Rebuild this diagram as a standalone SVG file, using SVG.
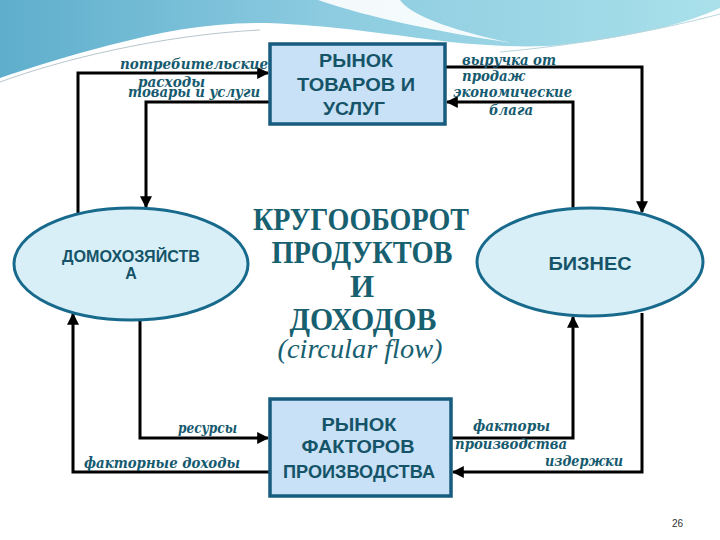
<svg xmlns="http://www.w3.org/2000/svg" width="720" height="540" viewBox="0 0 720 540">
<defs>
<linearGradient id="sky" x1="0" y1="0" x2="1" y2="0">
<stop offset="0" stop-color="#5eaecc"/>
<stop offset="0.45" stop-color="#8ccbe0"/>
<stop offset="1" stop-color="#a9e0ea"/>
</linearGradient>
<marker id="ah" viewBox="0 0 10 10" refX="9" refY="5" markerWidth="4" markerHeight="4" orient="auto" markerUnits="strokeWidth">
<path d="M0,0 L10,5 L0,10 Z" fill="#000"/>
</marker>
<style>
.box{fill:#c8e1f6;stroke:#175b7e;stroke-width:3.5}
.ell{fill:#d9eff8;stroke:#186a8c;stroke-width:3}
.bt{font-family:"Liberation Sans",Arial,sans-serif;font-weight:bold;fill:#155468;text-anchor:middle}
.lb{font-family:"DejaVu Serif","Liberation Serif",serif;font-weight:bold;font-style:italic;font-size:14px;fill:#165a70}
.tt{font-family:"Liberation Serif",serif;font-weight:bold;font-size:31px;fill:#176070;text-anchor:middle}
.cn{fill:none;stroke:#000;stroke-width:3;marker-end:url(#ah)}
</style>
</defs>
<rect width="720" height="540" fill="#fff"/>
<g id="background">
<path d="M0,0 H720 V8 C690,22 640,36 560,45 C530,48 490,46 450,42 C400,36 330,25 267,23 C210,22 160,32 110,45 C70,55 30,68 0,78 Z" fill="url(#sky)"/>
<path d="M318,0 H400 C410,15 450,30 512,43 C440,32 370,18 318,0 Z" fill="#ffffff" opacity="0.9"/>
<path d="M0,82 C60,60 160,35 260,30" fill="none" stroke="#b8c6cc" stroke-width="1"/>
<path d="M500,52 C580,45 660,30 720,14" fill="none" stroke="#b8d6de" stroke-width="1"/>
</g>
<g id="connectors">
<path class="cn" d="M78,214 V73 H268"/>
<path class="cn" d="M270,102 H146 V207"/>
<path class="cn" d="M445,67 H642 V212"/>
<path class="cn" d="M573,209 V102 H447"/>
<path class="cn" d="M451,438 H573 V317"/>
<path class="cn" d="M642,313 V472 H453"/>
<path class="cn" d="M140,320 V438 H268"/>
<path class="cn" d="M270,472 H73 V314"/>
</g>
<g id="labels">
<text class="lb" x="120" y="69" textLength="148" lengthAdjust="spacingAndGlyphs">потребительские</text>
<text class="lb" x="138" y="87" textLength="67" lengthAdjust="spacingAndGlyphs">расходы</text>
<text class="lb" x="128" y="97" textLength="132" lengthAdjust="spacingAndGlyphs">товары и услуги</text>
<text class="lb" x="462" y="65" textLength="94" lengthAdjust="spacingAndGlyphs">выручка от</text>
<text class="lb" x="462" y="81" textLength="63" lengthAdjust="spacingAndGlyphs">продаж</text>
<text class="lb" x="453" y="97" textLength="119" lengthAdjust="spacingAndGlyphs">экономические</text>
<text class="lb" x="489" y="115" textLength="44" lengthAdjust="spacingAndGlyphs">блага</text>
<text class="lb" x="178" y="433" textLength="59" lengthAdjust="spacingAndGlyphs">ресурсы</text>
<text class="lb" x="84" y="468" textLength="156" lengthAdjust="spacingAndGlyphs">факторные доходы</text>
<text class="lb" x="473" y="431" textLength="77" lengthAdjust="spacingAndGlyphs">факторы</text>
<text class="lb" x="455" y="449" textLength="112" lengthAdjust="spacingAndGlyphs">производства</text>
<text class="lb" x="545" y="466" textLength="78" lengthAdjust="spacingAndGlyphs">издержки</text>
</g>
<g id="goods-market">
<rect class="box" x="270" y="44" width="175" height="80"/>
<text class="bt" font-size="19" x="356" y="67" textLength="74" lengthAdjust="spacingAndGlyphs">РЫНОК</text>
<text class="bt" font-size="19" x="356" y="91" textLength="118" lengthAdjust="spacingAndGlyphs">ТОВАРОВ И</text>
<text class="bt" font-size="19" x="354" y="115" textLength="62" lengthAdjust="spacingAndGlyphs">УСЛУГ</text>
</g>
<g id="factor-market">
<rect class="box" x="270" y="399" width="181" height="97"/>
<text class="bt" font-size="19" x="359" y="431" textLength="75" lengthAdjust="spacingAndGlyphs">РЫНОК</text>
<text class="bt" font-size="19" x="358" y="453" textLength="113" lengthAdjust="spacingAndGlyphs">ФАКТОРОВ</text>
<text class="bt" font-size="19" x="359" y="478" textLength="152" lengthAdjust="spacingAndGlyphs">ПРОИЗВОДСТВА</text>
</g>
<g id="households">
<ellipse class="ell" cx="131" cy="264" rx="117" ry="56"/>
<text class="bt" font-size="16" x="131" y="262" textLength="138" lengthAdjust="spacingAndGlyphs">ДОМОХОЗЯЙСТВ</text>
<text class="bt" font-size="16" x="131" y="279">А</text>
</g>
<g id="business">
<ellipse class="ell" cx="590" cy="262" rx="113" ry="54"/>
<text class="bt" font-size="18" x="590" y="270" textLength="83" lengthAdjust="spacingAndGlyphs">БИЗНЕС</text>
</g>
<g id="title">
<text class="tt" x="361" y="230" textLength="216" lengthAdjust="spacingAndGlyphs">КРУГООБОРОТ</text>
<text class="tt" x="362" y="263" textLength="181" lengthAdjust="spacingAndGlyphs">ПРОДУКТОВ</text>
<text class="tt" x="362" y="297">И</text>
<text class="tt" x="363" y="330" textLength="147" lengthAdjust="spacingAndGlyphs">ДОХОДОВ</text>
<text x="360" y="358" font-family="Liberation Serif,serif" font-style="italic" font-size="27" fill="#176070" text-anchor="middle" textLength="165" lengthAdjust="spacingAndGlyphs">(circular flow)</text>
</g>
<text x="672" y="527" font-family="Liberation Sans,Arial,sans-serif" font-size="10" fill="#333">26</text>
</svg>
